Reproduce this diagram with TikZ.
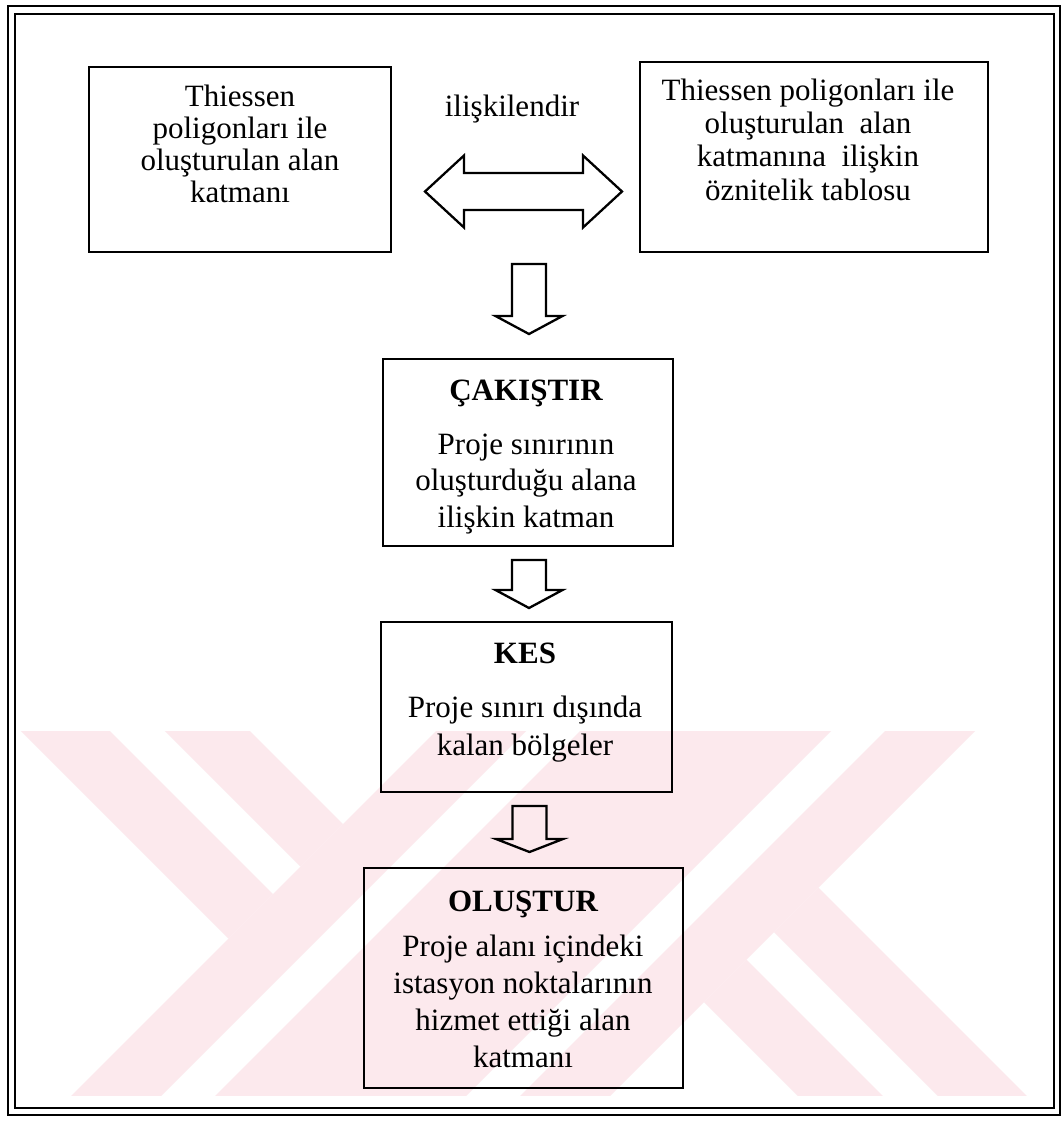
\documentclass[tikz,border=0pt]{standalone}
\usepackage{fontspec}
\setmainfont{Liberation Serif}
\usetikzlibrary{calc}
\definecolor{wmpink}{RGB}{252,233,237}
\newcommand\blockdown[3]{%
  \draw[blk] (#1) ++(-17,0) -- ++(34,0) -- ++(0,#2) -- ++(16.5,0)
    -- ++(-33.5,#3) -- ++(-33.5,-#3) -- ++(16.5,0) -- cycle;}
% filled band between u=x+y in [#1,#2] and v=x-y in [#3,#4]
\newcommand\uvband[4]{%
  \fill[wmpink] ({(#1+#3)/2},{(#1-#3)/2}) -- ({(#2+#3)/2},{(#2-#3)/2})
    -- ({(#2+#4)/2},{(#2-#4)/2}) -- ({(#1+#4)/2},{(#1-#4)/2}) -- cycle;}
\begin{document}
\begin{tikzpicture}[x=1pt,y=-1pt,
  box/.style={draw=black, line width=2.8pt, inner sep=0pt, outer sep=0pt},
  frameline/.style={draw=black, line width=2.8pt},
  blk/.style={draw=black, line width=2.3pt, line join=miter},
  txt/.style={align=center, inner sep=0pt, anchor=base},
  head/.style={inner sep=0pt, anchor=base, font=\fontsize{31}{32}\selectfont\bfseries}]
\useasboundingbox (0,0) rectangle (1063,1128);
\fill[white] (0,0) rectangle (1063,1128);
% faint watermark in the lower half
\begin{scope}
  \clip (17,731) rectangle (1030,1095);
  % long "/" band with two white stripes
  \uvband{1167}{1257}{-1500}{1500}
  \uvband{1311}{1562}{-1500}{1500}
  \uvband{1616}{1706}{-1500}{1500}
  % upper-left "\" arm
  \uvband{0}{1167}{-710}{-621}
  \uvband{0}{1167}{-566}{-481}
  % lower-right "\" arm
  \uvband{1706}{3000}{-298}{-213}
  \uvband{1706}{3000}{-158}{-69}
\end{scope}
% double frame
\draw[frameline] (8,6) rectangle (1060,1115);
\draw[frameline] (15,14) rectangle (1054,1108);
% boxes
\node[box, minimum width=302, minimum height=185] (b1) at (240,159.5) {};
\node[box, minimum width=348, minimum height=190] (b2) at (814,157) {};
\node[box, minimum width=290, minimum height=187] (cak) at (528,452.5) {};
\node[box, minimum width=291, minimum height=170] (kes) at (526.5,707) {};
\node[box, minimum width=319, minimum height=220] (olu) at (523.5,978) {};
% texts (anchored at the baseline of their last line)
\node[txt, font=\fontsize{31}{32}\selectfont] (t1) at (240,202)
  {Thiessen\\poligonları ile\\oluşturulan alan\\katmanı};
\node[txt, font=\fontsize{31}{33.3}\selectfont] (t2) at (808,200)
  {Thiessen poligonları ile\\oluşturulan\ \ alan\\katmanına\ \ ilişkin\\öznitelik tablosu};
\node[txt, font=\fontsize{31}{32}\selectfont] (rel) at (512,116) {ilişkilendir};
\node[head] (h3) at (526,400) {ÇAKIŞTIR};
\node[txt, font=\fontsize{31}{36.5}\selectfont] (t3) at (526,527)
  {Proje sınırının\\oluşturduğu alana\\ilişkin katman};
\node[head] (h4) at (525,663) {KES};
\node[txt, font=\fontsize{31}{38}\selectfont] (t4) at (525,755)
  {Proje sınırı dışında\\kalan bölgeler};
\node[head] (h5) at (523,911) {OLUŞTUR};
\node[txt, font=\fontsize{31}{36.7}\selectfont] (t5) at (523,1067)
  {Proje alanı içindeki\\istasyon noktalarının\\hizmet ettiği alan\\katmanı};
% double block arrow between the top boxes
\coordinate (dl) at ($(b1.east)+(34,32)$);
\coordinate (dr) at ($(b2.west)+(-18,34.5)$);
\draw[blk] (dl) -- ++(39,-36) -- ++(0,17.5) -- ++(119,0) -- ++(0,-17.5) -- (dr)
  -- ++(-39,36) -- ++(0,-17.5) -- ++(-119,0) -- ++(0,17.5) -- cycle;
% down block arrows
\coordinate (a1) at ($(cak.north)+(1,-95)$);
\coordinate (a2) at ($(cak.south)+(1,14)$);
\coordinate (a3) at ($(kes.south)+(3,14)$);
\blockdown{a1}{52}{18}
\blockdown{a2}{30}{18}
\blockdown{a3}{33}{13}
\end{tikzpicture}
\end{document}
